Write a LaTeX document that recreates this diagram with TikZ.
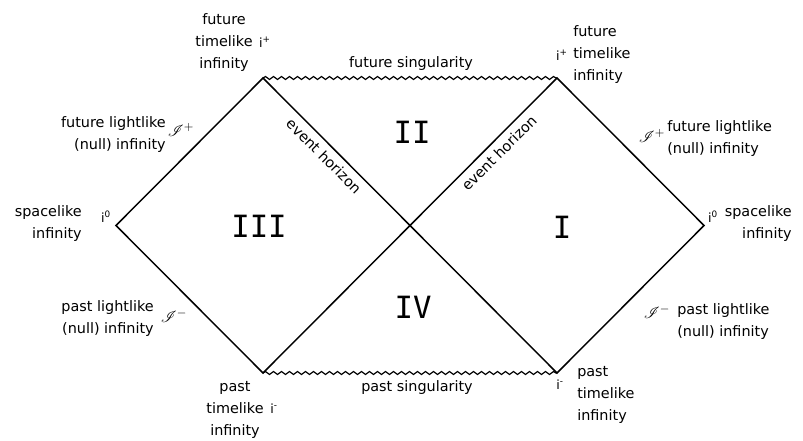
\documentclass[tikz,border=0pt]{standalone}
\usepackage{fontspec}
\usepackage{mathrsfs}
\setmainfont{DejaVu Sans}
\newfontfamily\romfont{DejaVu Sans Mono}
\usetikzlibrary{decorations.pathmorphing}
\begin{document}
\begin{tikzpicture}[x=0.75pt,y=-0.75pt,
  edge/.style={line width=1.1pt, line join=miter},
  sing/.style={line width=0.9pt, decorate, decoration={snake, segment length=6pt, amplitude=1.1pt}},
  lbl/.style={font=\fontsize{10.8}{16.5}\selectfont, inner sep=0pt},
  inf/.style={font=\fontsize{9.5}{12}\selectfont, inner sep=0pt},
  scri/.style={font=\fontsize{13}{14}\selectfont, inner sep=0pt},
  region/.style={font=\romfont\fontsize{23}{25}\selectfont, inner sep=0pt}]
\useasboundingbox (0,0) rectangle (803,441);
% vertices
\coordinate (TL) at (263,78);
\coordinate (TR) at (557,78);
\coordinate (BL) at (263,373);
\coordinate (BR) at (557,373);
\coordinate (L) at (116,225.5);
\coordinate (R) at (704,225.5);
\coordinate (C) at (410,225.5);
% diagram
\draw[edge] (L) -- (TL) -- (BR) -- (R) -- (TR) -- (BL) -- cycle;
\draw[sing] (TL) -- (TR);
\draw[sing] (BL) -- (BR);
% regions
\node[region] (rI) at (562,227) {I};
\node[region] (rII) at (412,132) {II};
\node[region] (rIII) at (259,226) {III};
\node[region] (rIV) at (413,307) {IV};
% singularities and horizons
\node[lbl] (fs) at (411,64) {future singularity};
\node[lbl] (ps) at (417,388) {past singularity};
\node[lbl, rotate=-45] (ehl) at (324,156) {event horizon};
\node[lbl, rotate=45] (ehr) at (499,153) {event horizon};
% left side labels
\node[lbl, align=center] (ftl) at (224,43) {future\\timelike\\infinity};
\node[inf] (ipl) at (265,42) {i\textsuperscript{+}};
\node[lbl, align=right, anchor=east] (fll) at (166,135) {future lightlike\\(null) infinity};
\node[scri] (scpl) at (181,130) {$\mathscr{I}^{+}$};
\node[lbl, align=right, anchor=east] (spl) at (82,223.5) {spacelike\\infinity};
\node[inf] (i0l) at (106,217) {i\textsuperscript{0}};
\node[lbl, align=right, anchor=east] (pll) at (154,319) {past lightlike\\(null) infinity};
\node[scri] (scml) at (174,316) {$\mathscr{I}^{-}$};
\node[lbl, align=center] (ptl) at (235,410) {past\\timelike\\infinity};
\node[inf] (iml) at (274,409) {i\textsuperscript{-}};
% right side labels
\node[lbl, align=left, anchor=west] (ftr) at (573,55) {future\\timelike\\infinity};
\node[inf] (ipr) at (562,55) {i\textsuperscript{+}};
\node[lbl, align=left, anchor=west] (flr) at (667,138.5) {future lightlike\\(null) infinity};
\node[scri] (scpr) at (652,136) {$\mathscr{I}^{+}$};
\node[lbl, align=right, anchor=east] (spr) at (792,223.5) {spacelike\\infinity};
\node[inf] (i0r) at (713,217) {i\textsuperscript{0}};
\node[lbl, align=left, anchor=west] (plr) at (677,322) {past lightlike\\(null) infinity};
\node[scri] (scmr) at (657,312) {$\mathscr{I}^{-}$};
\node[lbl, align=left, anchor=west] (ptr) at (577,394.5) {past\\timelike\\infinity};
\node[inf] (imr) at (560,385) {i\textsuperscript{-}};
\end{tikzpicture}
\end{document}
